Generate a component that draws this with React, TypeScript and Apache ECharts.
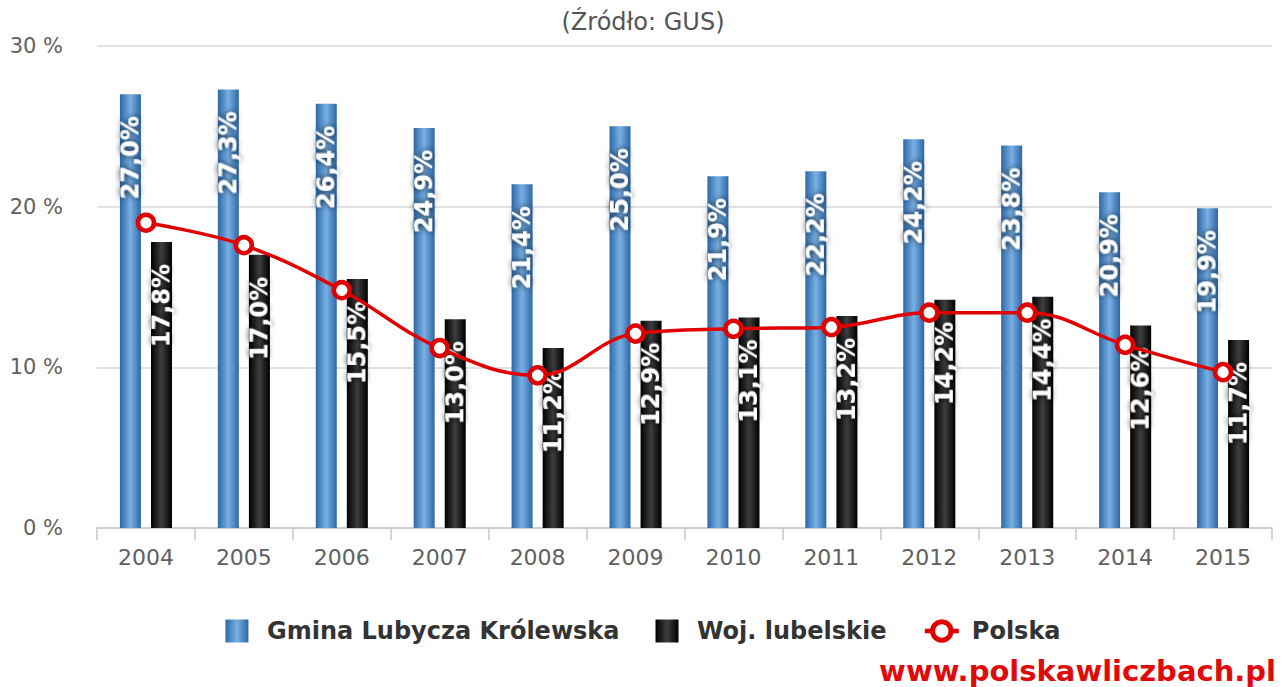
import React, { useEffect, useRef } from "react";
import * as echarts from "echarts";

const years = ["2004", "2005", "2006", "2007", "2008", "2009", "2010", "2011", "2012", "2013", "2014", "2015"];
const gminaValues = [27.0, 27.3, 26.4, 24.9, 21.4, 25.0, 21.9, 22.2, 24.2, 23.8, 20.9, 19.9];
const wojValues = [17.8, 17.0, 15.5, 13.0, 11.2, 12.9, 13.1, 13.2, 14.2, 14.4, 12.6, 11.7];
const polskaValues = [19.0, 17.6, 14.8, 11.2, 9.5, 12.1, 12.4, 12.5, 13.4, 13.4, 11.4, 9.7];
const seriesNames = ["Gmina Lubycza Królewska", "Woj. lubelskie", "Polska"];
const subtitle = "(Źródło: GUS)";
const watermark = "www.polskawliczbach.pl";

const FONT = '"DejaVu Sans", sans-serif';

const fmt = (v: number) => v.toFixed(1).replace(".", ",") + "%";

const barLabel = {
  show: true,
  position: "insideTop",
  rotate: 90,
  align: "right",
  verticalAlign: "middle",
  distance: 22,
  color: "#ffffff",
  fontFamily: FONT,
  fontWeight: "bold",
  fontSize: 24,
  textShadowColor: "rgba(0,0,0,0.85)",
  textShadowBlur: 6,
  formatter: (p: any) => fmt(p.value),
};

export default function App() {
  const ref = useRef<HTMLDivElement>(null);
  useEffect(() => {
    if (!ref.current) return;
    const chart = echarts.init(ref.current, null, { renderer: "svg" });
    const blue = new echarts.graphic.LinearGradient(0, 0, 1, 0, [
      { offset: 0, color: "#2d68a6" },
      { offset: 0.5, color: "#79b0e4" },
      { offset: 1, color: "#2d68a6" },
    ]);
    const black = new echarts.graphic.LinearGradient(0, 0, 1, 0, [
      { offset: 0, color: "#000000" },
      { offset: 0.5, color: "#3e3e3e" },
      { offset: 1, color: "#000000" },
    ]);
    chart.setOption({
      animation: false,
      backgroundColor: "#ffffff",
      title: {
        text: subtitle,
        left: "center",
        top: 10,
        padding: 0,
        textStyle: { fontFamily: FONT, fontSize: 24, fontWeight: "normal", color: "#555555" },
      },
      grid: { left: 97, right: 14, top: 46, bottom: 159, containLabel: false },
      legend: {
        bottom: 44,
        left: "center",
        padding: 0,
        itemWidth: 34,
        itemHeight: 23,
        itemGap: 36,
        textStyle: { fontFamily: FONT, fontSize: 24, fontWeight: "bold", color: "#333333", padding: [0, 0, 0, 8] },
        data: [
          { name: seriesNames[0], icon: "path://M0,0h10v10h-10z" },
          { name: seriesNames[1], icon: "path://M0,0h10v10h-10z" },
          {
            name: seriesNames[2],
            lineStyle: { width: 4.5, color: "#e00000" },
            itemStyle: { color: "#ffffff", borderColor: "#e00000", borderWidth: 5 },
          },
        ],
      },
      xAxis: {
        type: "category",
        data: years,
        axisLine: { lineStyle: { color: "#c0cad8", width: 1.5 } },
        axisTick: { show: true, length: 12, lineStyle: { color: "#c0cad8", width: 1.5 } },
        axisLabel: { fontFamily: FONT, fontSize: 22, color: "#606060", margin: 18 },
      },
      yAxis: {
        type: "value",
        min: 0,
        max: 30,
        interval: 10,
        axisLine: { show: false },
        axisTick: { show: false },
        splitLine: { lineStyle: { color: "#d8d8d8", width: 1.5 } },
        axisLabel: { fontFamily: FONT, fontSize: 21, color: "#606060", margin: 34, formatter: "{value} %" },
      },
      series: [
        {
          name: seriesNames[0],
          type: "bar",
          data: gminaValues,
          barWidth: 21,
          barGap: "48%",
          itemStyle: { color: blue },
          label: barLabel,
          z: 2,
        },
        {
          name: seriesNames[1],
          type: "bar",
          data: wojValues,
          barWidth: 21,
          itemStyle: { color: black },
          label: barLabel,
          z: 2,
        },
        {
          name: seriesNames[2],
          type: "line",
          data: polskaValues,
          smooth: 0.4,
          symbol: "circle",
          symbolSize: 16,
          lineStyle: { color: "#e00000", width: 3.5 },
          itemStyle: { color: "#ffffff", borderColor: "#e00000", borderWidth: 4.5 },
          z: 5,
        },
      ],
      graphic: [
        {
          type: "text",
          right: 10,
          top: 656,
          style: { text: watermark, font: 'bold 29px "DejaVu Sans", sans-serif', fill: "#e00a0a" },
        },
      ],
    });
    return () => chart.dispose();
  }, []);
  return (
    <div
      ref={ref}
      style={{ position: "fixed", left: 0, top: 0, width: 1286, height: 687, background: "#fff" }}
    />
  );
}
